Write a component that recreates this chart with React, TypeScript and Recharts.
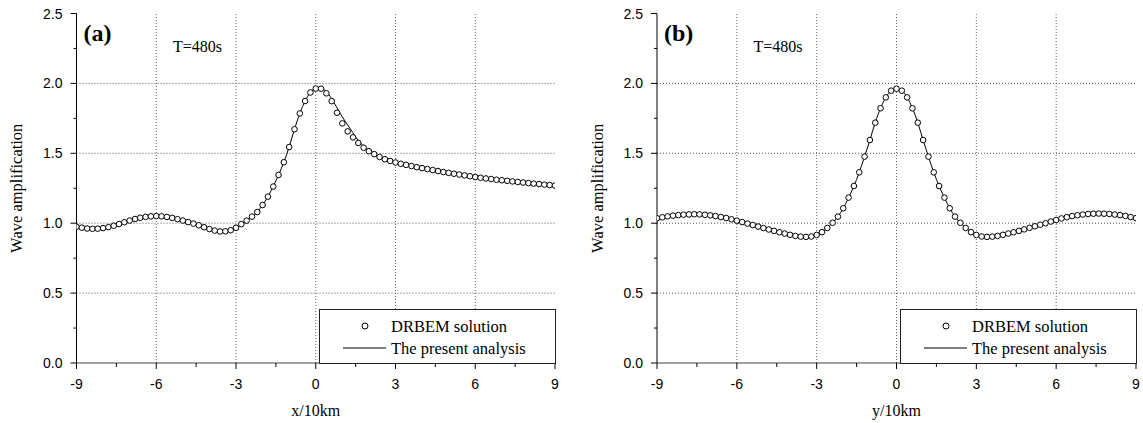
import React from 'react';
import { LineChart, Line, XAxis, YAxis, ReferenceLine, Legend, Label } from 'recharts';

// positions along the transect (x/10km or y/10km), every 0.2
const X_POSITIONS: number[] = Array.from({ length: 91 }, (_, i) => Math.round((-9 + i * 0.2) * 10) / 10);

const X_TICKS = [-9, -7.5, -6, -4.5, -3, -1.5, 0, 1.5, 3, 4.5, 6, 7.5, 9];
const X_GRID = [-6, -3, 0, 3, 6];
const Y_TICKS = [0, 0.25, 0.5, 0.75, 1, 1.25, 1.5, 1.75, 2, 2.25, 2.5];
const Y_GRID = [0.5, 1, 1.5, 2];
const SERIES_NAMES = ['DRBEM solution', 'The present analysis'];
const PERIOD_LABEL = 'T=480s';
const Y_TITLE = 'Wave amplification';

// Panel (a): along x
const A_DRBEM = [
  0.975, 0.968, 0.962, 0.960, 0.961, 0.965, 0.972, 0.982, 0.994, 1.007,
  1.019, 1.030, 1.039, 1.045, 1.049, 1.051, 1.049, 1.045, 1.038, 1.029,
  1.019, 1.008, 0.997, 0.985, 0.971, 0.958, 0.947, 0.941, 0.942, 0.950,
  0.967, 0.993, 1.018, 1.047, 1.080, 1.130, 1.190, 1.262, 1.345, 1.436,
  1.545, 1.672, 1.785, 1.874, 1.935, 1.963, 1.962, 1.929, 1.873, 1.790,
  1.714, 1.657, 1.614, 1.574, 1.540, 1.515, 1.494, 1.474, 1.458, 1.445,
  1.434, 1.425, 1.417, 1.409, 1.401, 1.394, 1.387, 1.380, 1.373, 1.366,
  1.360, 1.354, 1.348, 1.342, 1.336, 1.330, 1.325, 1.320, 1.316, 1.311,
  1.307, 1.303, 1.299, 1.295, 1.291, 1.287, 1.283, 1.280, 1.276, 1.273,
  1.269,
];
const A_ANALYSIS = [
  0.975, 0.968, 0.962, 0.960, 0.961, 0.965, 0.972, 0.982, 0.994, 1.007,
  1.019, 1.030, 1.039, 1.045, 1.049, 1.051, 1.049, 1.045, 1.038, 1.029,
  1.019, 1.008, 0.997, 0.985, 0.971, 0.958, 0.947, 0.941, 0.942, 0.950,
  0.967, 0.993, 1.018, 1.047, 1.080, 1.130, 1.190, 1.262, 1.345, 1.436,
  1.545, 1.672, 1.785, 1.874, 1.935, 1.963, 1.965, 1.940, 1.890, 1.825,
  1.760, 1.703, 1.646, 1.592, 1.552, 1.522, 1.497, 1.475, 1.459, 1.446,
  1.434, 1.425, 1.417, 1.409, 1.401, 1.394, 1.387, 1.380, 1.373, 1.366,
  1.360, 1.354, 1.348, 1.342, 1.336, 1.330, 1.325, 1.320, 1.316, 1.311,
  1.307, 1.303, 1.299, 1.295, 1.291, 1.287, 1.283, 1.280, 1.276, 1.273,
  1.269,
];

// Panel (b): along y
const B_DRBEM = [
  1.035, 1.042, 1.049, 1.054, 1.058, 1.061, 1.063, 1.064, 1.063, 1.060,
  1.056, 1.051, 1.044, 1.037, 1.028, 1.018, 1.008, 0.997, 0.987, 0.976,
  0.965, 0.955, 0.945, 0.935, 0.926, 0.917, 0.909, 0.904, 0.902, 0.905,
  0.916, 0.936, 0.966, 1.003, 1.047, 1.107, 1.183, 1.266, 1.364, 1.476,
  1.595, 1.719, 1.822, 1.900, 1.948, 1.962, 1.948, 1.900, 1.822, 1.719,
  1.595, 1.476, 1.364, 1.266, 1.183, 1.107, 1.047, 1.003, 0.966, 0.936,
  0.916, 0.905, 0.902, 0.904, 0.909, 0.917, 0.926, 0.935, 0.945, 0.956,
  0.967, 0.978, 0.989, 1.000, 1.012, 1.023, 1.034, 1.043, 1.051, 1.057,
  1.062, 1.066, 1.068, 1.069, 1.068, 1.066, 1.062, 1.058, 1.052, 1.044,
  1.036,
];
const B_ANALYSIS = [
  1.035, 1.042, 1.049, 1.054, 1.058, 1.061, 1.063, 1.064, 1.063, 1.060,
  1.056, 1.051, 1.044, 1.037, 1.028, 1.018, 1.008, 0.997, 0.987, 0.976,
  0.965, 0.955, 0.945, 0.935, 0.926, 0.917, 0.909, 0.904, 0.902, 0.905,
  0.916, 0.936, 0.966, 1.003, 1.047, 1.107, 1.183, 1.266, 1.364, 1.476,
  1.595, 1.719, 1.822, 1.900, 1.948, 1.962, 1.948, 1.900, 1.822, 1.719,
  1.595, 1.476, 1.364, 1.266, 1.183, 1.107, 1.047, 1.003, 0.966, 0.936,
  0.916, 0.905, 0.902, 0.904, 0.909, 0.917, 0.926, 0.935, 0.945, 0.956,
  0.967, 0.978, 0.989, 1.000, 1.012, 1.023, 1.034, 1.043, 1.051, 1.057,
  1.062, 1.066, 1.068, 1.069, 1.068, 1.066, 1.062, 1.058, 1.052, 1.044,
  1.036,
];

const SERIF = '"Liberation Serif", "Times New Roman", serif';
const SANS = '"Liberation Sans", Arial, Helvetica, sans-serif';
const HEIGHT = 423;
const PLOT_TOP = 13.5;
const X_AXIS_H = 60;

const XTick = (props: any) => {
  const { x, y, payload } = props;
  const v = payload.value as number;
  const major = Number.isInteger(v / 3);
  return (
    <g>
      <line x1={x} x2={x} y1={y} y2={y + (major ? 6 : 4)} stroke="#000" strokeWidth={1} />
      {major && (
        <text x={x} y={y + 26} textAnchor="middle" fontFamily={SANS} fontSize={14} fill="#000">
          {String(v)}
        </text>
      )}
    </g>
  );
};

const YTick = (props: any) => {
  const { x, y, payload } = props;
  const v = payload.value as number;
  const major = Number.isInteger(v * 2);
  return (
    <g>
      <line x1={x} x2={x - (major ? 6 : 3)} y1={y} y2={y} stroke="#000" strokeWidth={1} />
      {major && (
        <text x={x - 14} y={y + 5} textAnchor="end" fontFamily={SANS} fontSize={14} fill="#000">
          {v.toFixed(1)}
        </text>
      )}
    </g>
  );
};

const LegendBox = () => (
  <div style={{ width: 237, height: 55, border: '1px solid #222', background: '#fff', boxSizing: 'border-box', position: 'relative' }}>
    <svg width={237} height={55} style={{ position: 'absolute', left: -1, top: -1, overflow: 'visible' }}>
      <circle cx={46} cy={17} r={3} fill="#fff" stroke="#000" strokeWidth={1} />
      <text x={72} y={22.5} fontFamily={SERIF} fontSize={16.5} fill="#000">{SERIES_NAMES[0]}</text>
      <line x1={24} x2={67} y1={39} y2={39} stroke="#000" strokeWidth={1} />
      <text x={72} y={44.5} fontFamily={SERIF} fontSize={16.5} fill="#000">{SERIES_NAMES[1]}</text>
    </svg>
  </div>
);

type PanelProps = {
  left: number;
  width: number;
  yAxisWidth: number;
  marginRight: number;
  tag: string;
  xTitle: string;
  drbem: number[];
  analysis: number[];
};

const Panel = ({ left, width, yAxisWidth, marginRight, tag, xTitle, drbem, analysis }: PanelProps) => {
  const rows = X_POSITIONS.map((x, i) => ({ x, drbem: drbem[i], analysis: analysis[i] }));
  const plotLeft = yAxisWidth;
  return (
    <div style={{ position: 'absolute', left, top: 0, width, height: HEIGHT }}>
      <LineChart width={width} height={HEIGHT} data={rows} margin={{ top: PLOT_TOP, right: marginRight, bottom: 0, left: 0 }}>
        <XAxis
          dataKey="x"
          type="number"
          domain={[-9, 9]}
          ticks={X_TICKS}
          interval={0}
          height={X_AXIS_H}
          tickSize={0}
          tickMargin={0}
          tickLine={false}
          tick={<XTick />}
          axisLine={{ stroke: '#444', strokeWidth: 1 }}
          allowDataOverflow
        >
          <Label
            content={(p: any) => {
              const vb = p.viewBox;
              return (
                <text x={vb.x + vb.width / 2} y={vb.y + 53} textAnchor="middle" fontFamily={SERIF} fontSize={16} fill="#000">
                  {xTitle}
                </text>
              );
            }}
          />
        </XAxis>
        <XAxis xAxisId="top" orientation="top" type="number" domain={[-9, 9]} height={0} tick={false} tickLine={false} axisLine={{ stroke: '#000', strokeWidth: 1 }} />
        <YAxis
          type="number"
          domain={[0, 2.5]}
          ticks={Y_TICKS}
          interval={0}
          width={yAxisWidth}
          tickSize={0}
          tickMargin={0}
          tickLine={false}
          tick={<YTick />}
          axisLine={{ stroke: '#000', strokeWidth: 1 }}
          allowDataOverflow
        >
          <Label
            content={(p: any) => {
              const vb = p.viewBox;
              const cx = vb.x + vb.width - 54.5;
              const cy = vb.y + vb.height / 2;
              return (
                <text x={cx} y={cy} transform={`rotate(-90, ${cx}, ${cy})`} textAnchor="middle" fontFamily={SERIF} fontSize={16.5} fill="#000">
                  {Y_TITLE}
                </text>
              );
            }}
          />
        </YAxis>
        <YAxis yAxisId="right" orientation="right" type="number" domain={[0, 2.5]} width={0} tick={false} tickLine={false} axisLine={{ stroke: '#888', strokeWidth: 2 }} />
        {X_GRID.map((g) => (
          <ReferenceLine key={`vx${g}`} x={g} stroke="#666" strokeDasharray="1 2" strokeWidth={1} />
        ))}
        {Y_GRID.map((g) => (
          <ReferenceLine key={`hy${g}`} y={g} stroke="#555" strokeDasharray="1 2" strokeWidth={1} />
        ))}
        <Line
          name={SERIES_NAMES[1]}
          dataKey="analysis"
          type="monotone"
          stroke="#000"
          strokeWidth={1}
          dot={false}
          activeDot={false}
          isAnimationActive={false}
        />
        <Line
          name={SERIES_NAMES[0]}
          dataKey="drbem"
          type="monotone"
          stroke="none"
          strokeWidth={0}
          dot={{ r: 2.8, stroke: '#000', strokeWidth: 1, fill: '#fff' }}
          activeDot={false}
          isAnimationActive={false}
        />
        <Legend
          layout="vertical"
          align="center"
          verticalAlign="middle"
          wrapperStyle={{ left: plotLeft + 242.5, top: 309, width: 237, height: 55, lineHeight: 0 }}
          content={() => <LegendBox />}
        />
      </LineChart>
      <svg width={width} height={HEIGHT} style={{ position: 'absolute', left: 0, top: 0, pointerEvents: 'none' }}>
        <text x={plotLeft + 7} y={41} fontFamily={SERIF} fontWeight="bold" fontSize={24} fill="#000">{tag}</text>
        <text x={plotLeft + 96.5} y={51.5} fontFamily={SERIF} fontSize={16} fill="#000">{PERIOD_LABEL}</text>
      </svg>
    </div>
  );
};

export default function App() {
  return (
    <div style={{ position: 'absolute', left: 0, top: 0, width: 1143, height: HEIGHT, background: '#fff', overflow: 'hidden' }}>
      <Panel left={0} width={570} yAxisWidth={76.5} marginRight={15} tag="(a)" xTitle="x/10km" drbem={A_DRBEM} analysis={A_ANALYSIS} />
      <Panel left={580} width={563} yAxisWidth={77} marginRight={7} tag="(b)" xTitle="y/10km" drbem={B_DRBEM} analysis={B_ANALYSIS} />
    </div>
  );
}
